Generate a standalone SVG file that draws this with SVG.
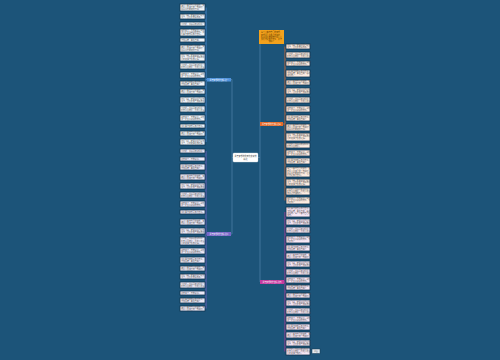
<svg xmlns="http://www.w3.org/2000/svg" width="500" height="360" viewBox="0 0 500 360">
<style>
text{font-family:"Noto Sans CJK SC","Noto Sans",sans-serif}
.lf rect{stroke:#10344e;stroke-width:.8}
.lf text{font-size:1.95px;fill:#555}
.lb rect{fill:#f1f5fb}
.lp rect{fill:#edeaf8}
.lo rect{fill:#fdece2}
.lm rect{fill:#f7e7f5}
.br text{font-size:1.9px;fill:#fff;text-anchor:middle}
.cn{fill:none;stroke-width:.8}
</style>
<rect width="500" height="360" fill="#1c5479"/>
<g id="connectors">
<path class="cn" stroke="#4d7fa5" d="M232 79.5V234M232 157.5H233M232 79.5H231M232 234H231"/>
<path class="cn" stroke="#4d7fa5" d="M260 37V282M258 157.5H260M260 124H260.5"/>
<path class="cn" stroke="#4f93dd" d="M206 7.5V142M207 79.5H206"/>
<path class="cn" stroke="#7a68c9" d="M206 151V308.5M207 234H206"/>
<path class="cn" stroke="#e56b2a" d="M285 46.5V200.5M283 124H285"/>
<path class="cn" stroke="#c63aa0" d="M285 212V351.5M284 282H285"/>
</g>
<g id="center"><rect x="233" y="153" width="25" height="9" rx="1" fill="#fff" stroke="#d0d8e0" stroke-width=".4"/><text x="245.5" y="156.8" font-size="2" fill="#333" text-anchor="middle">关于梦想的优秀作文素材</text><text x="245.5" y="159.8" font-size="2" fill="#333" text-anchor="middle">精选</text></g>
<g id="b-yellow"><rect x="259" y="30" width="25" height="14" fill="#f4a21c"/><g font-size="1.9" fill="#5a3800" text-anchor="middle"><text x="271.5" y="33.4">每个人都有自己的梦想，</text><text x="271.5" y="35.5">梦想是人生路上的明灯，</text><text x="271.5" y="37.6">照亮我们前进的方向，让</text><text x="271.5" y="39.7">我们为之努力奋斗，永不</text><text x="271.5" y="41.8">放弃。</text></g></g>
<g id="b-blue" class="br"><rect x="207" y="78" width="24" height="3.5" fill="#4f93dd"/><text x="219" y="80.5">关于梦想的作文精选一</text></g>
<g id="b-purple" class="br"><rect x="207" y="232" width="24" height="4" fill="#7a68c9"/><text x="219" y="234.6">关于梦想的作文精选二</text></g>
<g id="b-orange" class="br"><rect x="260" y="122" width="23" height="4" fill="#e56b2a"/><text x="271.5" y="124.6">关于梦想的作文精选三</text></g>
<g id="b-magenta" class="br"><rect x="260" y="280" width="24" height="4" fill="#c63aa0"/><text x="272" y="282.6">关于梦想的作文精选四</text></g>
<g id="l1" class="lf lb"><rect x="180" y="4" width="25" height="7"/><text x="181.2" y="5.95">每个人都有自己的梦想，梦</text><text x="181.2" y="8.05">想是人生路上的一盏明灯，</text><text x="181.2" y="10.15">照亮我们前进的方向。</text></g>
<g id="l2" class="lf lb"><rect x="180" y="14" width="25" height="5"/><text x="181.2" y="16">时光飞逝，转眼间我已经长</text><text x="181.2" y="18.1">大了，回忆起美好日子。</text></g>
<g id="l3" class="lf lb"><rect x="180" y="22" width="25" height="4"/><text x="181.2" y="24.55">小时候，我最喜欢和妈妈一</text></g>
<g id="l4" class="lf lb"><rect x="180" y="29" width="25" height="7"/><text x="181.2" y="30.95">春天来了，万物复苏，到处</text><text x="181.2" y="33.05">是一片生机勃勃的景象。我</text><text x="181.2" y="35.15">们要为梦想而努力奋斗。</text></g>
<g id="l5" class="lf lb"><rect x="180" y="38" width="25" height="4"/><text x="181.2" y="40.55">不怕困难，勇往直前。</text></g>
<g id="l6" class="lf lb"><rect x="180" y="45" width="25" height="7"/><text x="181.2" y="46.95">每个人都有自己的梦想，梦</text><text x="181.2" y="49.05">想是人生路上的一盏明灯，</text><text x="181.2" y="51.15">照亮我们前进的方向。</text></g>
<g id="l7" class="lf lb"><rect x="180" y="54" width="25" height="7"/><text x="181.2" y="55.95">时光飞逝，转眼间我已经长</text><text x="181.2" y="58.05">大了，回忆起那些美好日子</text><text x="181.2" y="60.15">心中充满了感激之情。</text></g>
<g id="l8" class="lf lb"><rect x="180" y="63" width="25" height="6"/><text x="181.2" y="65.5">小时候，我最喜欢和妈妈一</text><text x="181.2" y="67.6">起去公园散步，看花开花落</text></g>
<g id="l9" class="lf lb"><rect x="180" y="72" width="25" height="6"/><text x="181.2" y="74.5">春天来了，万物复苏，到处</text><text x="181.2" y="76.6">是一片生机勃勃的景象。</text></g>
<g id="l10" class="lf lb"><rect x="180" y="81" width="25" height="5"/><text x="181.2" y="83">我们要为梦想而努力奋斗，</text><text x="181.2" y="85.1">不怕困难，勇往直前。</text></g>
<g id="l11" class="lf lb"><rect x="180" y="89" width="25" height="5"/><text x="181.2" y="91">每个人都有自己的梦想，梦</text><text x="181.2" y="93.1">想是人生路上的一盏明灯。</text></g>
<g id="l12" class="lf lb"><rect x="180" y="97" width="25" height="6"/><text x="181.2" y="99.5">时光飞逝，转眼间我已经长</text><text x="181.2" y="101.6">大了，回忆起那些美好日子</text></g>
<g id="l13" class="lf lb"><rect x="180" y="106" width="25" height="6"/><text x="181.2" y="108.5">小时候，我最喜欢和妈妈一</text><text x="181.2" y="110.6">起去公园散步，看花开花落</text></g>
<g id="l14" class="lf lb"><rect x="180" y="115" width="25" height="6"/><text x="181.2" y="117.5">春天来了，万物复苏，到处</text><text x="181.2" y="119.6">是一片生机勃勃的景象。</text></g>
<g id="l15" class="lf lb"><rect x="180" y="124" width="25" height="4"/><text x="181.2" y="126.55">我们要为梦想而努力奋斗。</text></g>
<g id="l16" class="lf lb"><rect x="180" y="131" width="25" height="5"/><text x="181.2" y="133">每个人都有自己的梦想，梦</text><text x="181.2" y="135.1">想是人生路上的一盏明灯。</text></g>
<g id="l17" class="lf lb"><rect x="180" y="139" width="25" height="6"/><text x="181.2" y="141.5">时光飞逝，转眼间我已经长</text><text x="181.2" y="143.6">大了，心中充满感激之情。</text></g>
<g id="l18" class="lf lp"><rect x="180" y="149" width="25" height="4"/><text x="181.2" y="151.55">小时候，我最喜欢和妈妈一</text></g>
<g id="l19" class="lf lp"><rect x="180" y="157" width="25" height="4"/><text x="181.2" y="159.55">春天来了，万物复苏。</text></g>
<g id="l20" class="lf lp"><rect x="180" y="164" width="25" height="6"/><text x="181.2" y="166.5">我们要为梦想而努力奋斗，</text><text x="181.2" y="168.6">不怕困难，勇往直前。</text></g>
<g id="l21" class="lf lp"><rect x="180" y="174" width="25" height="6"/><text x="181.2" y="176.5">每个人都有自己的梦想，梦</text><text x="181.2" y="178.6">想是人生路上的一盏明灯，</text></g>
<g id="l22" class="lf lp"><rect x="180" y="183" width="25" height="6"/><text x="181.2" y="185.5">时光飞逝，转眼间我已经长</text><text x="181.2" y="187.6">大了，回忆起那些美好日子</text></g>
<g id="l23" class="lf lp"><rect x="180" y="192" width="25" height="6"/><text x="181.2" y="194.5">小时候，我最喜欢和妈妈一</text><text x="181.2" y="196.6">起去公园散步，看花开花落</text></g>
<g id="l24" class="lf lp"><rect x="180" y="201" width="25" height="6"/><text x="181.2" y="203.5">春天来了，万物复苏，到处</text><text x="181.2" y="205.6">是一片生机勃勃的景象。</text></g>
<g id="l25" class="lf lp"><rect x="180" y="210" width="25" height="4"/><text x="181.2" y="212.55">我们要为梦想而努力奋斗。</text></g>
<g id="l26" class="lf lp"><rect x="180" y="219" width="25" height="6"/><text x="181.2" y="221.5">每个人都有自己的梦想，梦</text><text x="181.2" y="223.6">想是人生路上的一盏明灯，</text></g>
<g id="l27" class="lf lp"><rect x="180" y="228" width="25" height="6"/><text x="181.2" y="230.5">时光飞逝，转眼间我已经长</text><text x="181.2" y="232.6">大了，回忆起那些美好日子</text></g>
<g id="l28" class="lf lp"><rect x="180" y="237" width="25" height="8"/><text x="181.2" y="239.45">小时候，我最喜欢和妈妈一</text><text x="181.2" y="241.55">起去公园散步，看花开花落</text><text x="181.2" y="243.65">心中充满了感激之情。</text></g>
<g id="l29" class="lf lp"><rect x="180" y="248" width="25" height="6"/><text x="181.2" y="250.5">春天来了，万物复苏，到处</text><text x="181.2" y="252.6">是一片生机勃勃的景象。</text></g>
<g id="l30" class="lf lp"><rect x="180" y="257" width="25" height="6"/><text x="181.2" y="259.5">我们要为梦想而努力奋斗，</text><text x="181.2" y="261.6">不怕困难，勇往直前。</text></g>
<g id="l31" class="lf lp"><rect x="180" y="266" width="25" height="5"/><text x="181.2" y="268">每个人都有自己的梦想，梦</text><text x="181.2" y="270.1">想是人生路上的一盏明灯。</text></g>
<g id="l32" class="lf lp"><rect x="180" y="274" width="25" height="5"/><text x="181.2" y="276">时光飞逝，转眼间我已经长</text><text x="181.2" y="278.1">大了，回忆起美好日子。</text></g>
<g id="l33" class="lf lp"><rect x="180" y="282" width="25" height="6"/><text x="181.2" y="284.5">小时候，我最喜欢和妈妈一</text><text x="181.2" y="286.6">起去公园散步，看花开花落</text></g>
<g id="l34" class="lf lp"><rect x="180" y="291" width="25" height="4"/><text x="181.2" y="293.55">春天来了，万物复苏。</text></g>
<g id="l35" class="lf lp"><rect x="180" y="298" width="25" height="5"/><text x="181.2" y="300">我们要为梦想而努力奋斗，</text><text x="181.2" y="302.1">不怕困难，勇往直前。</text></g>
<g id="l36" class="lf lp"><rect x="180" y="306" width="25" height="5"/><text x="181.2" y="308">每个人都有自己的梦想，梦</text><text x="181.2" y="310.1">想是人生路上的一盏明灯。</text></g>
<g id="r1" class="lf lo"><rect x="286" y="44" width="24" height="5"/><text x="287.2" y="46">时光飞逝，转眼间我已经长</text><text x="287.2" y="48.1">大了，回忆起美好日子。</text></g>
<g id="r2" class="lf lo"><rect x="286" y="52" width="24" height="6"/><text x="287.2" y="54.5">小时候，我最喜欢和妈妈一</text><text x="287.2" y="56.6">起去公园散步，看花开花落</text></g>
<g id="r3" class="lf lo"><rect x="286" y="61" width="24" height="5"/><text x="287.2" y="63">春天来了，万物复苏，到处</text><text x="287.2" y="65.1">是一片生机勃勃的景象。</text></g>
<g id="r4" class="lf lo"><rect x="286" y="70" width="24" height="7"/><text x="287.2" y="71.95">我们要为梦想而努力奋斗，</text><text x="287.2" y="74.05">不怕困难，勇往直前，总会</text><text x="287.2" y="76.15">成功的。</text></g>
<g id="r5" class="lf lo"><rect x="286" y="80" width="24" height="5"/><text x="287.2" y="82">每个人都有自己的梦想，梦</text><text x="287.2" y="84.1">想是人生路上的一盏明灯。</text></g>
<g id="r6" class="lf lo"><rect x="286" y="88" width="24" height="6"/><text x="287.2" y="90.5">时光飞逝，转眼间我已经长</text><text x="287.2" y="92.6">大了，回忆起那些美好日子</text></g>
<g id="r7" class="lf lo"><rect x="286" y="97" width="24" height="6"/><text x="287.2" y="99.5">小时候，我最喜欢和妈妈一</text><text x="287.2" y="101.6">起去公园散步，看花开花落</text></g>
<g id="r8" class="lf lo"><rect x="286" y="106" width="24" height="6"/><text x="287.2" y="108.5">春天来了，万物复苏，到处</text><text x="287.2" y="110.6">是一片生机勃勃的景象。</text></g>
<g id="r9" class="lf lo"><rect x="286" y="115" width="24" height="6"/><text x="287.2" y="117.5">我们要为梦想而努力奋斗，</text><text x="287.2" y="119.6">不怕困难，勇往直前。</text></g>
<g id="r10" class="lf lo"><rect x="286" y="124" width="24" height="7"/><text x="287.2" y="125.95">每个人都有自己的梦想，梦</text><text x="287.2" y="128.05">想是人生路上的一盏明灯，</text><text x="287.2" y="130.15">照亮我们前进的方向。</text></g>
<g id="r11" class="lf lo"><rect x="286" y="133" width="24" height="8"/><text x="287.2" y="134.85">时光飞逝，转眼间我已经长</text><text x="287.2" y="136.95">大了，回忆起那些美好日子</text><text x="287.2" y="139.05">心中充满了感激之情。</text></g>
<g id="r12" class="lf lo"><rect x="286" y="143" width="24" height="5"/><text x="287.2" y="145">小时候，我最喜欢和妈妈一</text><text x="287.2" y="147.1">起去公园散步。</text></g>
<g id="r13" class="lf lo"><rect x="286" y="150" width="24" height="6"/><text x="287.2" y="152.5">春天来了，万物复苏，到处</text><text x="287.2" y="154.6">是一片生机勃勃的景象。</text></g>
<g id="r14" class="lf lo"><rect x="286" y="158" width="24" height="6"/><text x="287.2" y="160.5">我们要为梦想而努力奋斗，</text><text x="287.2" y="162.6">不怕困难，勇往直前。</text></g>
<g id="r15" class="lf lo"><rect x="286" y="167" width="24" height="10"/><text x="287.2" y="169.4">每个人都有自己的梦想，梦</text><text x="287.2" y="171.5">想是人生路上的一盏明灯，</text><text x="287.2" y="173.6">照亮我们前进的方向，让我</text><text x="287.2" y="175.7">们为之努力奋斗。</text></g>
<g id="r16" class="lf lo"><rect x="286" y="179" width="24" height="7"/><text x="287.2" y="180.95">时光飞逝，转眼间我已经长</text><text x="287.2" y="183.05">大了，回忆起那些美好日子</text><text x="287.2" y="185.15">心中充满了感激之情。</text></g>
<g id="r17" class="lf lo"><rect x="286" y="188" width="24" height="7"/><text x="287.2" y="189.95">小时候，我最喜欢和妈妈一</text><text x="287.2" y="192.05">起去公园散步，看花开花落</text><text x="287.2" y="194.15">日子过得很快乐。</text></g>
<g id="r18" class="lf lo"><rect x="286" y="197" width="24" height="7"/><text x="287.2" y="198.95">春天来了，万物复苏，到处</text><text x="287.2" y="201.05">是一片生机勃勃的景象，鸟</text><text x="287.2" y="203.15">语花香。</text></g>
<g id="m1" class="lf lm"><rect x="286" y="207" width="24" height="10"/><text x="287.2" y="209.4">我们要为梦想而努力奋斗，</text><text x="287.2" y="211.5">不怕困难，勇往直前，总会</text><text x="287.2" y="213.6">成功的。每个人都有自己的</text><text x="287.2" y="215.7">梦想。</text></g>
<g id="m2" class="lf lm"><rect x="286" y="219" width="24" height="6"/><text x="287.2" y="221.5">时光飞逝，转眼间我已经长</text><text x="287.2" y="223.6">大了，回忆起那些美好日子</text></g>
<g id="m3" class="lf lm"><rect x="286" y="227" width="24" height="6"/><text x="287.2" y="229.5">小时候，我最喜欢和妈妈一</text><text x="287.2" y="231.6">起去公园散步，看花开花落</text></g>
<g id="m4" class="lf lm"><rect x="286" y="236" width="24" height="7"/><text x="287.2" y="237.95">春天来了，万物复苏，到处</text><text x="287.2" y="240.05">是一片生机勃勃的景象，鸟</text><text x="287.2" y="242.15">语花香。</text></g>
<g id="m5" class="lf lm"><rect x="286" y="245" width="24" height="6"/><text x="287.2" y="247.5">我们要为梦想而努力奋斗，</text><text x="287.2" y="249.6">不怕困难，勇往直前。</text></g>
<g id="m6" class="lf lm"><rect x="286" y="253" width="24" height="6"/><text x="287.2" y="255.5">每个人都有自己的梦想，梦</text><text x="287.2" y="257.6">想是人生路上的一盏明灯，</text></g>
<g id="m7" class="lf lm"><rect x="286" y="261" width="24" height="6"/><text x="287.2" y="263.5">时光飞逝，转眼间我已经长</text><text x="287.2" y="265.6">大了，回忆起那些美好日子</text></g>
<g id="m8" class="lf lm"><rect x="286" y="269" width="24" height="6"/><text x="287.2" y="271.5">小时候，我最喜欢和妈妈一</text><text x="287.2" y="273.6">起去公园散步，看花开花落</text></g>
<g id="m9" class="lf lm"><rect x="286" y="277" width="24" height="6"/><text x="287.2" y="279.5">春天来了，万物复苏，到处</text><text x="287.2" y="281.6">是一片生机勃勃的景象。</text></g>
<g id="m10" class="lf lm"><rect x="286" y="285" width="24" height="5"/><text x="287.2" y="287">我们要为梦想而努力奋斗，</text><text x="287.2" y="289.1">不怕困难，勇往直前。</text></g>
<g id="m11" class="lf lm"><rect x="286" y="293" width="24" height="5"/><text x="287.2" y="295">每个人都有自己的梦想，梦</text><text x="287.2" y="297.1">想是人生路上的一盏明灯。</text></g>
<g id="m12" class="lf lm"><rect x="286" y="300" width="24" height="6"/><text x="287.2" y="302.5">时光飞逝，转眼间我已经长</text><text x="287.2" y="304.6">大了，回忆起那些美好日子</text></g>
<g id="m13" class="lf lm"><rect x="286" y="308" width="24" height="6"/><text x="287.2" y="310.5">小时候，我最喜欢和妈妈一</text><text x="287.2" y="312.6">起去公园散步，看花开花落</text></g>
<g id="m14" class="lf lm"><rect x="286" y="316" width="24" height="6"/><text x="287.2" y="318.5">春天来了，万物复苏，到处</text><text x="287.2" y="320.6">是一片生机勃勃的景象。</text></g>
<g id="m15" class="lf lm"><rect x="286" y="324" width="24" height="6"/><text x="287.2" y="326.5">我们要为梦想而努力奋斗，</text><text x="287.2" y="328.6">不怕困难，勇往直前。</text></g>
<g id="m16" class="lf lm"><rect x="286" y="332" width="24" height="6"/><text x="287.2" y="334.5">每个人都有自己的梦想，梦</text><text x="287.2" y="336.6">想是人生路上的一盏明灯，</text></g>
<g id="m17" class="lf lm"><rect x="286" y="340" width="24" height="6"/><text x="287.2" y="342.5">时光飞逝，转眼间我已经长</text><text x="287.2" y="344.6">大了，回忆起那些美好日子</text></g>
<g id="m18" class="lf lm"><rect x="286" y="348" width="24" height="7"/><text x="287.2" y="349.95">小时候，我最喜欢和妈妈一</text><text x="287.2" y="352.05">起去公园散步，看花开花落</text><text x="287.2" y="354.15">心中充满了快乐。</text></g>
<g id="tag"><rect x="312" y="349" width="8" height="4.5" fill="#e4eaf0" stroke="#10344e" stroke-width=".5"/><text x="316" y="351.9" font-size="1.8" fill="#666" text-anchor="middle">树图</text></g>
</svg>
